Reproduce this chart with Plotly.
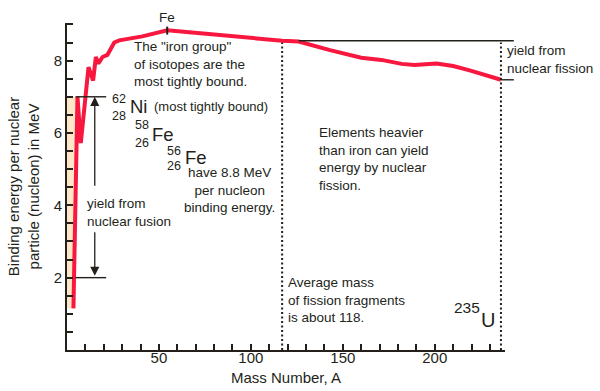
import plotly.graph_objects as go

# ---- data ----
mass_number = [3.5, 5.7, 7.5, 11.7, 14.2, 15.7, 17.1, 19.3, 22, 25.7, 28.4, 41, 54.5, 65,
               76, 90, 117, 126, 143, 160, 171, 182, 189, 201, 210, 219, 228, 236]
binding_energy = [1.15, 7.0, 5.72, 7.82, 7.45, 8.1, 7.92, 8.1, 8.16, 8.5, 8.56, 8.67, 8.84, 8.79,
                  8.74, 8.66, 8.55, 8.53, 8.29, 8.08, 8.02, 7.91, 7.88, 7.92, 7.85, 7.73, 7.6, 7.47]

x_tick_vals = list(range(10, 240, 10))
x_tick_text = [str(v) if v % 50 == 0 else "" for v in x_tick_vals]
y_tick_vals = [v / 2 for v in range(1, 19)]
y_tick_text = [str(int(v)) if v in (2, 4, 6, 8) else "" for v in y_tick_vals]

fusion_low, fusion_high = 2.0, 7.0          # MeV levels bracketing fusion yield
fission_high, fission_low = 8.55, 7.47      # MeV levels bracketing fission yield
fragment_mass = 117
uranium_mass = 236
fe_mass, fe_be = 54.5, 8.84

X_MAX, Y_MAX = 238.2, 9.04
INK = "#231f1a"
RED = "#f8173e"
FONT = "Liberation Sans, Arial, Helvetica, sans-serif"


def xp(a):
    return a / X_MAX


def yp(b):
    return b / Y_MAX


fig = go.Figure()

# peach wedge between axis and rising curve
fig.add_trace(go.Scatter(x=mass_number[:2], y=binding_energy[:2], mode="lines",
                         fill="tozerox", fillcolor="#fde7c9",
                         line=dict(width=0, color="rgba(0,0,0,0)"), hoverinfo="skip",
                         showlegend=False))

fig.add_trace(go.Scatter(x=mass_number, y=binding_energy, mode="lines",
                         line=dict(color=RED, width=4), showlegend=False))

shapes = []
for lvl in (fusion_low, fusion_high):
    shapes.append(dict(type="line", xref="x", yref="y", x0=4.7, x1=21.3, y0=lvl, y1=lvl,
                       line=dict(color=INK, width=1.4)))
shapes.append(dict(type="line", xref="paper", yref="y", x0=xp(126), x1=xp(243),
                   y0=fission_high, y1=fission_high, line=dict(color=INK, width=1.4)))
shapes.append(dict(type="line", xref="paper", yref="y", x0=xp(uranium_mass), x1=xp(243),
                   y0=fission_low, y1=fission_low, line=dict(color=INK, width=1.4)))
shapes.append(dict(type="line", xref="x", yref="y", x0=fragment_mass, x1=fragment_mass,
                   y0=0, y1=8.5, line=dict(color=INK, width=2, dash="2px,2.5px")))
shapes.append(dict(type="line", xref="x", yref="y", x0=uranium_mass, x1=uranium_mass,
                   y0=0, y1=fission_high - 0.05, line=dict(color=INK, width=2, dash="2px,2.5px")))
shapes.append(dict(type="line", xref="x", yref="y", x0=fe_mass, x1=fe_mass,
                   y0=fe_be - 0.12, y1=fe_be + 0.1, line=dict(color=INK, width=2)))

ann = []


def txt(text, x, y, size=13.5, xanchor="left", align="left", xref="x", yref="y", xshift=-2):
    ann.append(dict(text=text, x=x, y=y, xref=xref, yref=yref, showarrow=False,
                    xanchor=xanchor, yanchor="middle", align=align, xshift=xshift,
                    font=dict(size=size, color=INK, family=FONT)))


txt("Fe", fe_mass, yp(9.2), xanchor="center", yref="paper", xshift=0)
txt('The "iron group"<br>of isotopes are the<br>most tightly bound.', 36.2, 7.9)
txt("62", 24.4, 6.95, size=12.5)
txt("28", 24.4, 6.47, size=12.5)
txt("Ni", 34.0, 6.74, size=18.5)
txt("(most tightly bound)", 47.2, 6.74, size=13)
txt("58", 37.0, 6.21, size=12.5)
txt("26", 37.0, 5.73, size=12.5)
txt("Fe", 46.2, 5.95, size=18.5)
txt("56", 54.3, 5.49, size=12.5)
txt("26", 54.3, 5.08, size=12.5)
txt("Fe", 64.2, 5.33, size=18.5)
txt("have 8.8 MeV<br>per nucleon<br>binding energy.", 88.4, 4.41, xanchor="center",
    align="center", xshift=0)
txt("Elements heavier<br>than iron can yield<br>energy by nuclear<br>fission.", 137.3, 5.27)
txt("yield from<br>nuclear fission", xp(239.5), 8.03, xref="paper")
txt("Average mass<br>of fission fragments<br>is about 118.", 120.4, 1.37)
txt("235", 210.2, 1.18, size=15.5)
txt("U", 225.4, 0.82, size=20)
txt("yield from<br>nuclear fusion", 11.1, 3.8)

ann.append(dict(x=15.1, y=fusion_high, ax=15.1, ay=4.5, xref="x", yref="y", axref="x", ayref="y",
                text="", showarrow=True, arrowhead=2, arrowsize=1.4, arrowwidth=1.3, arrowcolor=INK))
ann.append(dict(x=15.1, y=fusion_low + 0.05, ax=15.1, ay=3.3, xref="x", yref="y", axref="x", ayref="y",
                text="", showarrow=True, arrowhead=2, arrowsize=1.4, arrowwidth=1.3, arrowcolor=INK))

ann.append(dict(text="Binding energy per nuclear<br>particle (nucleon) in MeV", x=-0.099, y=0.5,
                xref="paper", yref="paper", showarrow=False, textangle=-90,
                xanchor="center", yanchor="middle", font=dict(size=15, color=INK, family=FONT)))
ann.append(dict(text="Mass Number, A", x=0.5, y=-0.083, xref="paper", yref="paper", showarrow=False,
                xanchor="center", yanchor="middle", font=dict(size=15, color=INK, family=FONT)))

fig.update_layout(
    width=600, height=391,
    margin=dict(l=67, r=95, t=23, b=41),
    paper_bgcolor="white", plot_bgcolor="white",
    shapes=shapes, annotations=ann,
    font=dict(family=FONT, color=INK),
)
fig.update_xaxes(range=[0, X_MAX], showgrid=False, zeroline=False, showline=True,
                 linecolor=INK, linewidth=2, ticks="inside", ticklen=6, tickwidth=2,
                 tickcolor=INK, tickvals=x_tick_vals, ticktext=x_tick_text,
                 ticklabelstandoff=-7,
                 tickfont=dict(size=15, color=INK, family=FONT))
fig.update_yaxes(range=[0, Y_MAX], showgrid=False, zeroline=False, showline=True,
                 linecolor=INK, linewidth=2, ticks="inside", ticklen=6, tickwidth=2,
                 tickcolor=INK, tickvals=y_tick_vals, ticktext=y_tick_text,
                 tickfont=dict(size=15, color=INK, family=FONT))

fig.write_html("out.html", config={"displayModeBar": False},
               post_script="document.body.style.margin='0px';")
